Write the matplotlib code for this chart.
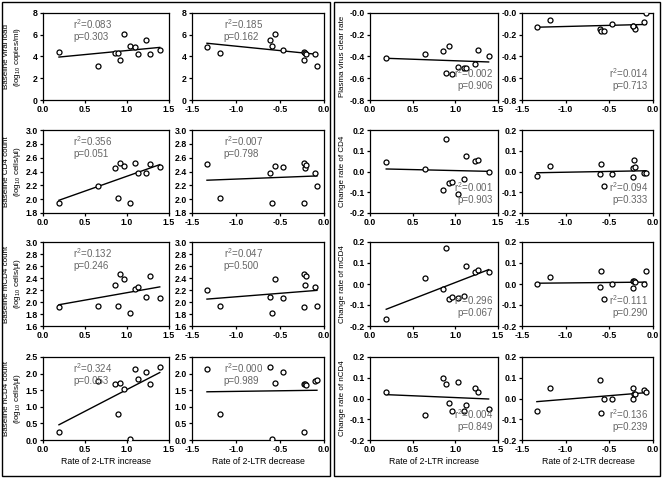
import matplotlib.pyplot as plt
import numpy as np
from matplotlib.patches import Rectangle

plt.rcParams['font.family'] = ['Liberation Sans', 'DejaVu Sans']
plt.rcParams['mathtext.default'] = 'regular'

# x values: rate of 2-LTR increase / decrease
inc_x = [0.19, 0.65, 0.86, 0.89, 0.92, 0.96, 1.03, 1.10, 1.13, 1.23, 1.27, 1.39]
dec_x = [-1.33, -1.18, -0.61, -0.59, -0.56, -0.47, -0.23, -0.22, -0.21, -0.23, -0.10, -0.08]

# left block (baseline values)
viral_inc = [4.4, 3.1, 4.35, 4.35, 3.7, 6.05, 4.95, 4.85, 4.25, 5.5, 4.2, 4.6]
viral_dec = [4.85, 4.35, 5.5, 4.95, 6.05, 4.6, 4.45, 4.35, 4.2, 3.7, 4.25, 3.1]
cd4_inc = [1.95, 2.19, 2.45, 2.01, 2.53, 2.48, 1.95, 2.52, 2.38, 2.38, 2.51, 2.47]
cd4_dec = [2.51, 2.01, 2.38, 1.95, 2.48, 2.46, 2.53, 2.45, 2.50, 1.95, 2.38, 2.19]
mcd4_inc = [1.91, 1.94, 2.28, 1.94, 2.46, 2.38, 1.82, 2.21, 2.25, 2.08, 2.43, 2.07]
mcd4_dec = [2.20, 1.94, 2.08, 1.82, 2.38, 2.07, 2.46, 2.28, 2.43, 1.91, 2.25, 1.94]
ncd4_inc = [0.25, 1.78, 1.70, 0.78, 1.72, 1.55, 0.02, 2.15, 1.85, 2.05, 1.70, 2.20]
ncd4_dec = [2.15, 0.78, 2.20, 0.02, 1.72, 2.05, 1.70, 1.70, 1.65, 0.25, 1.78, 1.80]

# right block (rates)
clear_inc = [-0.41, -0.375, -0.345, -0.55, -0.305, -0.565, -0.50, -0.505, -0.505, -0.465, -0.34, -0.395]
clear_dec = [-0.13, -0.065, -0.145, -0.165, -0.165, -0.10, -0.115, -0.125, -0.15, -0.12, -0.08, 0.0]
rcd4_inc = [0.048, 0.013, -0.09, 0.157, -0.057, -0.05, -0.107, -0.035, 0.073, 0.05, 0.055, 0.0]
rcd4_dec = [-0.02, 0.028, -0.012, 0.037, -0.07, -0.013, 0.017, 0.056, 0.02, -0.027, -0.005, -0.005]
rmcd4_inc = [-0.165, 0.027, -0.022, 0.172, -0.07, -0.063, -0.067, -0.055, 0.085, 0.057, 0.068, 0.058]
rmcd4_dec = [0.0, 0.033, -0.013, 0.06, -0.073, 0.0, 0.015, 0.013, 0.01, -0.018, 0.0, 0.06]
rncd4_inc = [0.03, -0.08, 0.10, 0.07, -0.02, -0.06, 0.08, -0.06, -0.03, 0.05, 0.03, -0.05]
rncd4_dec = [-0.06, 0.05, 0.09, -0.07, 0.0, 0.0, 0.05, 0.02, 0.02, 0.0, 0.04, 0.03]

stats = [
    ['r$^2$=0.083\np=0.303', 'r$^2$=0.185\np=0.162', 'r$^2$=0.002\np=0.906', 'r$^2$=0.014\np=0.713'],
    ['r$^2$=0.356\np=0.051', 'r$^2$=0.007\np=0.798', 'r$^2$=0.001\np=0.903', 'r$^2$=0.094\np=0.333'],
    ['r$^2$=0.132\np=0.246', 'r$^2$=0.047\np=0.500', 'r$^2$=0.296\np=0.067', 'r$^2$=0.111\np=0.290'],
    ['r$^2$=0.324\np=0.053', 'r$^2$=0.000\np=0.989', 'r$^2$=0.004\np=0.849', 'r$^2$=0.136\np=0.239'],
]

ylabels_left = ['Baseline viral load\n(log$_{10}$ copies/ml)',
                'Baseline CD4 count\n(log$_{10}$ cells/µl)',
                'Baseline mCD4 count\n(log$_{10}$ cells/µl)',
                'Baseline nCD4 count\n(log$_{10}$ cells/µl)']
ylabels_right = ['Plasma virus clear rate', 'Change rate of CD4',
                 'Change rate of mCD4', 'Change rate of nCD4']

yticks_left = [[0, 2, 4, 6, 8],
               [1.8, 2.0, 2.2, 2.4, 2.6, 2.8, 3.0],
               [1.6, 1.8, 2.0, 2.2, 2.4, 2.6, 2.8, 3.0],
               [0.0, 0.5, 1.0, 1.5, 2.0, 2.5]]
yticklabels_left = [['0', '2', '4', '6', '8'],
                    ['1.8', '2.0', '2.2', '2.4', '2.6', '2.8', '3.0'],
                    ['1.6', '1.8', '2.0', '2.2', '2.4', '2.6', '2.8', '3.0'],
                    ['0.0', '0.5', '1.0', '1.5', '2.0', '2.5']]
yticks_right = [[-0.8, -0.6, -0.4, -0.2, 0.0]] + [[-0.2, -0.1, 0.0, 0.1, 0.2]] * 3
yticklabels_right = [['-0.8', '-0.6', '-0.4', '-0.2', '-0.0']] + [['-0.2', '-0.1', '0.0', '0.1', '0.2']] * 3

left_rows = [(viral_inc, viral_dec), (cd4_inc, cd4_dec), (mcd4_inc, mcd4_dec), (ncd4_inc, ncd4_dec)]
right_rows = [(clear_inc, clear_dec), (rcd4_inc, rcd4_dec), (rmcd4_inc, rmcd4_dec), (rncd4_inc, rncd4_dec)]

W, H = 662, 478
fig = plt.figure(figsize=(W / 100, H / 100), dpi=100)

row_px = [(13, 100), (130, 213), (242, 326), (357, 440)]
col_px = [(43, 169), (192, 324), (370, 498), (522, 653)]


def px_axes(col, row):
    x0, x1 = col_px[col]
    y0, y1 = row_px[row]
    return fig.add_axes([x0 / W, 1 - y1 / H, (x1 - x0) / W, (y1 - y0) / H])


def panel(ax, x, y, xlim, xticks, yt, ytl, txt, txtpos):
    x = np.array(x)
    y = np.array(y)
    ax.plot(x, y, 'o', mfc='white', mec='black', ms=3.6, mew=0.9, zorder=3)
    k, b = np.polyfit(x, y, 1)
    xs = np.array([x.min(), x.max()])
    ax.plot(xs, k * xs + b, color='black', lw=1.0, zorder=2)
    ax.set_xlim(xlim)
    ax.set_xticks(xticks)
    ax.set_xticklabels(['%.1f' % v for v in xticks])
    ax.set_ylim(yt[0], yt[-1])
    ax.set_yticks(yt)
    ax.set_yticklabels(ytl)
    ax.tick_params(direction='out', length=2.5, width=0.9, labelsize=6.3, pad=1.2)
    for lab in ax.get_xticklabels() + ax.get_yticklabels():
        lab.set_fontweight('bold')
    for s in ax.spines.values():
        s.set_linewidth(0.9)
    if txtpos == 'top':
        ax.text(0.24, 0.95, txt, transform=ax.transAxes, fontsize=7,
                color='#666666', va='top', ha='left', linespacing=1.1)
    else:
        ax.text(0.96, 0.1, txt, transform=ax.transAxes, fontsize=7,
                color='#666666', va='bottom', ha='right', multialignment='right',
                linespacing=1.1)


inc_ticks = [0.0, 0.5, 1.0, 1.5]
dec_ticks = [-1.5, -1.0, -0.5, 0.0]

for r in range(4):
    yc = (row_px[r][0] + row_px[r][1]) / 2
    ax = px_axes(0, r)
    panel(ax, inc_x, left_rows[r][0], (0, 1.5), inc_ticks,
          yticks_left[r], yticklabels_left[r], stats[r][0], 'top')
    fig.text(13 / W, 1 - yc / H, ylabels_left[r], fontsize=5.8, rotation=90,
             ha='center', va='center', multialignment='center', linespacing=1.25)
    ax = px_axes(1, r)
    panel(ax, dec_x, left_rows[r][1], (-1.5, 0), dec_ticks,
          yticks_left[r], yticklabels_left[r], stats[r][1], 'top')
    ax = px_axes(2, r)
    panel(ax, inc_x, right_rows[r][0], (0, 1.5), inc_ticks,
          yticks_right[r], yticklabels_right[r], stats[r][2], 'bottom')
    fig.text(342 / W, 1 - yc / H, ylabels_right[r], fontsize=5.8, rotation=90,
             ha='center', va='center')
    ax = px_axes(3, r)
    panel(ax, dec_x, right_rows[r][1], (-1.5, 0), dec_ticks,
          yticks_right[r], yticklabels_right[r], stats[r][3], 'bottom')

# x axis titles
for cx, lab in [(106, 'Rate of 2-LTR increase'), (258, 'Rate of 2-LTR decrease'),
                (434, 'Rate of 2-LTR increase'), (588, 'Rate of 2-LTR decrease')]:
    fig.text(cx / W, 1 - 462 / H, lab, fontsize=6.3, ha='center', va='center')

# outer frames of the two blocks
for x0, x1 in [(2, 330), (334, 660)]:
    fig.patches.append(Rectangle((x0 / W, 2 / H), (x1 - x0) / W, (H - 4) / H,
                                 transform=fig.transFigure, fill=False,
                                 lw=1.0, ec='black'))

fig.savefig('out.png', dpi=100)
